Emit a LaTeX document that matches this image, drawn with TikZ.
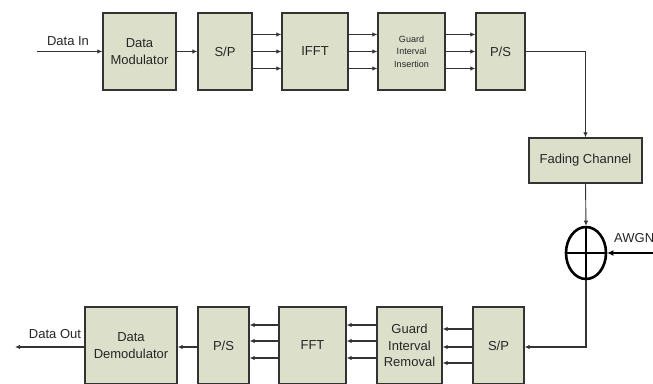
\documentclass[tikz,border=0pt]{standalone}
\usepackage{fontspec}
\setmainfont{Liberation Sans}
\usetikzlibrary{arrows.meta,positioning,shapes.geometric}
\definecolor{blockfill}{HTML}{DCDFCA}
\definecolor{lineg}{HTML}{333333}

\begin{document}
\begin{tikzpicture}[x=1pt,y=-1pt,>={Latex[length=5pt,width=4.5pt]},
			every node/.style={font=\fontsize{13}{16.5}\selectfont,text=black!85},
			block/.style={draw=lineg,line width=1.3pt,fill=blockfill,align=center,
				inner sep=0pt,minimum height=77pt},
			link/.style={->,lineg,line width=1.2pt}]
			\useasboundingbox (0,0) rectangle (653,383);
			\clip (0,0) rectangle (653,383);
			% transmitter
			\node[block,minimum width=73pt] (mod) at (139.5,51.5) {Data\\Modulator};
			\node[block,minimum width=54pt] (sp1) at (225,51.5) {S/P};
			\node[block,minimum width=66pt] (ifft) at (315,51.5) {IFFT};
			\node[block,minimum width=67pt,font=\fontsize{9}{12.5}\selectfont] (gii) at (411.5,51.5) {Guard\\Interval\\Insertion};
			\node[block,minimum width=49pt] (ps1) at (500.5,51.5) {P/S};
			% channel
			\node[block,minimum width=113pt,minimum height=45pt] (fade) at (585.5,160.5) {Fading Channel};
			\node[ellipse,draw=black,line width=2.6pt,minimum width=40pt,minimum height=52pt,inner sep=0pt] (sum) at (586,253) {};
			\draw[black,line width=2.6pt] (sum.north) -- (sum.south) (sum.west) -- (sum.east);
			% receiver
			\node[block,minimum width=51pt] (sp2) at (498.5,345.5) {S/P};
			\node[block,minimum width=65pt] (gir) at (409.5,345.5) {Guard\\Interval\\Removal};
			\node[block,minimum width=67pt] (fft) at (312.5,345.5) {FFT};
			\node[block,minimum width=51pt] (ps2) at (223.5,345.5) {P/S};
			\node[block,minimum width=92pt] (demod) at (131,345.5) {Data\\Demodulator};
			% inputs and outputs
			\coordinate (in) at (37,51.5);
			\coordinate (out) at (15,347);
			\coordinate (noise) at (660,253);
			\node (inlbl) at (68,41) {Data In};
			\node (outlbl) at (55,334) {Data Out};
			\node[anchor=west,inner sep=0pt] (awgn) at (614,238) {AWGN};
			\draw[link] (in) -- (mod.west);
			\draw[link] (mod) -- (sp1);
			\foreach \a/\b in {sp1/ifft,ifft/gii,gii/ps1}
			{\foreach \o in {-17,0,17}
				{\draw[link] ([yshift=\o]\a.east) -- ([yshift=\o]\b.west);}}
			\draw[link] (ps1.east) -| (fade.north);
			\draw[->,lineg,line width=0.9pt] (fade.south) -- (sum.north);
			\draw[->,black,line width=2.6pt,>={Latex[length=6pt,width=6pt]}] (noise) -- (sum.east);
			\draw[link] (sum.south) |- ([yshift=-1.5pt]sp2.east);
			\foreach \o in {16.5,-1.5,-17.5}
			{\draw[link] ([yshift=\o]sp2.west) -- ([yshift=\o]gir.east);}
			\foreach \a/\b in {gir/fft,fft/ps2}
			{\foreach \o in {20.5,4.5,-12.5}
				{\draw[link] ([yshift=\o]\a.west) -- ([yshift=\o]\b.east);}}
			\draw[link] ([yshift=-1.5pt]ps2.west) -- ([yshift=-1.5pt]demod.east);
			\draw[link] ([yshift=-1.5pt]demod.west) -- (out);
		\end{tikzpicture}
\end{document}
